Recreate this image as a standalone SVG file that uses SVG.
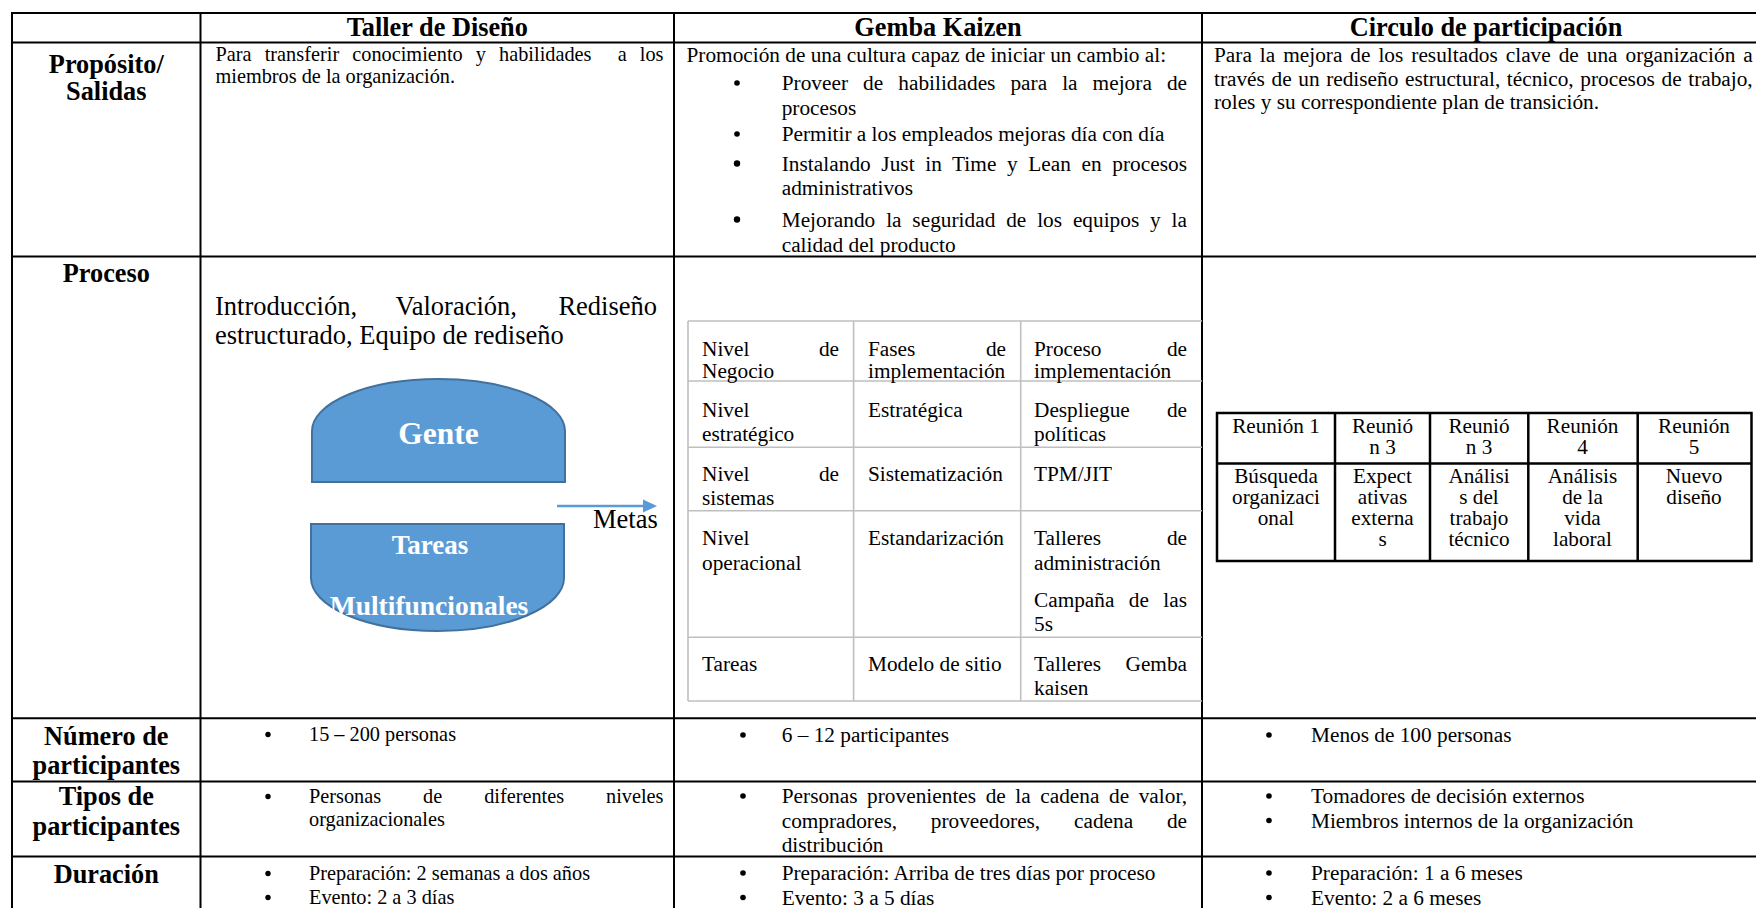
<svg xmlns="http://www.w3.org/2000/svg" width="1756" height="908" viewBox="0 0 1756 908">
<defs>
<style>
text{font-family:'Liberation Serif','Times New Roman',serif;fill:#000}
.b{font-weight:bold;font-size:26.3px;text-anchor:middle}
.r{font-size:21.3px}
.s{font-size:20.3px}
.p{font-size:26.5px}
.c{font-size:21.2px;text-anchor:middle}
.e{text-anchor:end}
.w{fill:#fff;font-weight:bold;text-anchor:middle}
.grid line{stroke:#000;stroke-width:2}
.inner line{stroke:#BFBFBF;stroke-width:1.6}
.reu line,.reu rect{stroke:#000;stroke-width:2.5;fill:none}
.shape{fill:#5B9BD5;stroke:#41719C;stroke-width:2}
.dot{fill:#000}
</style>
</defs>
<rect width="1756" height="908" fill="#fff"/>

<g id="grid" class="grid">
<line x1="12" y1="13" x2="1756" y2="13"/>
<line x1="12" y1="42.5" x2="1756" y2="42.5"/>
<line x1="12" y1="256.5" x2="1756" y2="256.5"/>
<line x1="12" y1="718.3" x2="1756" y2="718.3"/>
<line x1="12" y1="781.5" x2="1756" y2="781.5"/>
<line x1="12" y1="856.5" x2="1756" y2="856.5"/>
<line x1="12" y1="12" x2="12" y2="908"/>
<line x1="200.5" y1="12" x2="200.5" y2="908"/>
<line x1="674" y1="12" x2="674" y2="908"/>
<line x1="1202" y1="12" x2="1202" y2="908"/>
</g>

<g id="headers">
<text class="b" x="437.3" y="36">Taller de Diseño</text>
<text class="b" x="938" y="36">Gemba Kaizen</text>
<text class="b" x="1486" y="36">Circulo de participación</text>
</g>

<g id="row-labels">
<text class="b" x="106.3" y="73">Propósito/</text>
<text class="b" x="106.3" y="100">Salidas</text>
<text class="b" x="106.3" y="282">Proceso</text>
<text class="b" x="106.3" y="745">Número de</text>
<text class="b" x="106.3" y="774">participantes</text>
<text class="b" x="106.3" y="805">Tipos de</text>
<text class="b" x="106.3" y="835">participantes</text>
<text class="b" x="106.3" y="883">Duración</text>
</g>

<g id="taller-proposito">
<text class="s" x="215.5" y="61" xml:space="preserve" word-spacing="8" textLength="448" lengthAdjust="spacing">Para transferir conocimiento y habilidades  a los</text>
<text class="s" x="215.5" y="83">miembros de la organización.</text>
</g>

<g id="gemba-proposito">
<text class="r" x="686.5" y="62">Promoción de una cultura capaz de iniciar un cambio al:</text>
<circle class="dot" cx="737" cy="83" r="2.8"/>
<text class="r" x="781.7" y="90" word-spacing="9.7" textLength="405.3" lengthAdjust="spacing">Proveer de habilidades para la mejora de</text>
<text class="r" x="781.7" y="114.5">procesos</text>
<circle class="dot" cx="737" cy="134" r="2.8"/>
<text class="r" x="781.7" y="141">Permitir a los empleados mejoras día con día</text>
<circle class="dot" cx="737" cy="163.5" r="3.2"/>
<text class="r" x="781.7" y="170.5" word-spacing="5.2" textLength="405.3" lengthAdjust="spacing">Instalando Just in Time y Lean en procesos</text>
<text class="r" x="781.7" y="195">administrativos</text>
<circle class="dot" cx="737" cy="219.5" r="3.2"/>
<text class="r" x="781.7" y="226.5" word-spacing="5.5" textLength="405.3" lengthAdjust="spacing">Mejorando la seguridad de los equipos y la</text>
<text class="r" x="781.7" y="251.5">calidad del producto</text>
</g>

<g id="circulo-proposito">
<text class="r" x="1214" y="62" word-spacing="2.6" textLength="538.7" lengthAdjust="spacing">Para la mejora de los resultados clave de una organización a</text>
<text class="r" x="1214" y="85.5" word-spacing="1.3" textLength="538.7" lengthAdjust="spacing">través de un rediseño estructural, técnico, procesos de trabajo,</text>
<text class="r" x="1214" y="109">roles y su correspondiente plan de transición.</text>
</g>

<g id="taller-proceso">
<text class="p" x="215" y="315">Introducción,</text>
<text class="p" x="395.5" y="315">Valoración,</text>
<text class="p e" x="657" y="315">Rediseño</text>
<text class="p" x="215" y="344">estructurado, Equipo de rediseño</text>
</g>

<g id="node-gente">
<path class="shape" d="M312,482 L312,431 A126.5,52 0 0 1 565,431 L565,482 Z"/>
<text class="w" x="438.5" y="443.5" font-size="31.5">Gente</text>
</g>

<g id="node-tareas">
<path class="shape" d="M311,524 L564,524 L564,578 A126.5,53 0 0 1 311,578 Z"/>
<text class="w" x="430" y="553.5" font-size="27">Tareas</text>
<text class="w" x="429" y="614.5" font-size="27.5">Multifuncionales</text>
</g>

<g id="connectors">
<line x1="557" y1="506" x2="645" y2="506" stroke="#5B9BD5" stroke-width="2.5"/>
<polygon points="643,499.5 657,506 643,512.5" fill="#5B9BD5"/>
<text class="p" x="593" y="527.5" font-size="26">Metas</text>
</g>

<g id="gemba-proceso">
<g class="inner">
<line x1="688" y1="321" x2="1202" y2="321"/>
<line x1="688" y1="381" x2="1202" y2="381"/>
<line x1="688" y1="447.3" x2="1202" y2="447.3"/>
<line x1="688" y1="510.7" x2="1202" y2="510.7"/>
<line x1="688" y1="637.3" x2="1202" y2="637.3"/>
<line x1="688" y1="701" x2="1202" y2="701"/>
<line x1="688" y1="321" x2="688" y2="701"/>
<line x1="853.6" y1="321" x2="853.6" y2="701"/>
<line x1="1020.7" y1="321" x2="1020.7" y2="701"/>
</g>
<text class="r" x="702" y="355.5">Nivel</text><text class="r e" x="839" y="355.5">de</text>
<text class="r" x="702" y="378">Negocio</text>
<text class="r" x="868" y="355.5">Fases</text><text class="r e" x="1006" y="355.5">de</text>
<text class="r" x="868" y="378">implementación</text>
<text class="r" x="1034" y="355.5">Proceso</text><text class="r e" x="1187" y="355.5">de</text>
<text class="r" x="1034" y="378">implementación</text>

<text class="r" x="702" y="417">Nivel</text>
<text class="r" x="702" y="440.5">estratégico</text>
<text class="r" x="868" y="417">Estratégica</text>
<text class="r" x="1034" y="417">Despliegue</text><text class="r e" x="1187" y="417">de</text>
<text class="r" x="1034" y="440.5">políticas</text>

<text class="r" x="702" y="481">Nivel</text><text class="r e" x="839" y="481">de</text>
<text class="r" x="702" y="504.5">sistemas</text>
<text class="r" x="868" y="481">Sistematización</text>
<text class="r" x="1034" y="481">TPM/JIT</text>

<text class="r" x="702" y="545">Nivel</text>
<text class="r" x="702" y="569.5">operacional</text>
<text class="r" x="868" y="545">Estandarización</text>
<text class="r" x="1034" y="545">Talleres</text><text class="r e" x="1187" y="545">de</text>
<text class="r" x="1034" y="569.5">administración</text>
<text class="r" x="1034" y="607">Campaña</text><text class="r" x="1128.8" y="607">de</text><text class="r e" x="1187" y="607">las</text>
<text class="r" x="1034" y="631">5s</text>

<text class="r" x="702" y="671">Tareas</text>
<text class="r" x="868" y="671">Modelo de sitio</text>
<text class="r" x="1034" y="671">Talleres</text><text class="r e" x="1187" y="671">Gemba</text>
<text class="r" x="1034" y="694.5">kaisen</text>
</g>

<g id="circulo-proceso">
<g class="reu">
<rect x="1217" y="413" width="534.5" height="148"/>
<line x1="1217" y1="463.5" x2="1751.5" y2="463.5"/>
<line x1="1335" y1="413" x2="1335" y2="561"/>
<line x1="1430" y1="413" x2="1430" y2="561"/>
<line x1="1528.3" y1="413" x2="1528.3" y2="561"/>
<line x1="1637.7" y1="413" x2="1637.7" y2="561"/>
</g>
<text class="c" x="1276" y="433">Reunión 1</text>
<text class="c" x="1276" y="483">Búsqueda</text>
<text class="c" x="1276" y="504">organizaci</text>
<text class="c" x="1276" y="525">onal</text>
<text class="c" x="1382.5" y="433">Reunió</text>
<text class="c" x="1382.5" y="454.3">n 3</text>
<text class="c" x="1382.5" y="483">Expect</text>
<text class="c" x="1382.5" y="504">ativas</text>
<text class="c" x="1382.5" y="525">externa</text>
<text class="c" x="1382.5" y="546">s</text>
<text class="c" x="1479" y="433">Reunió</text>
<text class="c" x="1479" y="454.3">n 3</text>
<text class="c" x="1479" y="483">Análisi</text>
<text class="c" x="1479" y="504">s del</text>
<text class="c" x="1479" y="525">trabajo</text>
<text class="c" x="1479" y="546">técnico</text>
<text class="c" x="1582.5" y="433">Reunión</text>
<text class="c" x="1582.5" y="454.3">4</text>
<text class="c" x="1582.5" y="483">Análisis</text>
<text class="c" x="1582.5" y="504">de la</text>
<text class="c" x="1582.5" y="525">vida</text>
<text class="c" x="1582.5" y="546">laboral</text>
<text class="c" x="1694" y="433">Reunión</text>
<text class="c" x="1694" y="454.3">5</text>
<text class="c" x="1694" y="483">Nuevo</text>
<text class="c" x="1694" y="504">diseño</text>
</g>

<g id="numero">
<circle class="dot" cx="268" cy="734.5" r="2.7"/>
<text class="s" x="309" y="741">15 – 200 personas</text>
<circle class="dot" cx="743" cy="735" r="2.8"/>
<text class="r" x="781.7" y="742">6 – 12 participantes</text>
<circle class="dot" cx="1269" cy="735" r="2.8"/>
<text class="r" x="1311" y="742">Menos de 100 personas</text>
</g>

<g id="tipos">
<circle class="dot" cx="268" cy="796.5" r="2.7"/>
<text class="s" x="309" y="803">Personas</text>
<text class="s" x="423.1" y="803">de</text>
<text class="s" x="484.2" y="803">diferentes</text>
<text class="s e" x="663.5" y="803">niveles</text>
<text class="s" x="309" y="826">organizacionales</text>

<circle class="dot" cx="743" cy="796" r="2.8"/>
<text class="r" x="781.7" y="803" word-spacing="4.2" textLength="405.3" lengthAdjust="spacing">Personas provenientes de la cadena de valor,</text>
<text class="r" x="781.7" y="827.5">compradores,</text>
<text class="r" x="930.8" y="827.5">proveedores,</text>
<text class="r" x="1074" y="827.5">cadena</text>
<text class="r e" x="1187" y="827.5">de</text>
<text class="r" x="781.7" y="852">distribución</text>

<circle class="dot" cx="1269" cy="796" r="2.8"/>
<text class="r" x="1311" y="803">Tomadores de decisión externos</text>
<circle class="dot" cx="1269" cy="820.5" r="2.8"/>
<text class="r" x="1311" y="827.5">Miembros internos de la organización</text>
</g>

<g id="duracion">
<circle class="dot" cx="268" cy="873.5" r="2.7"/>
<text class="s" x="309" y="880">Preparación: 2 semanas a dos años</text>
<circle class="dot" cx="268" cy="897.5" r="2.7"/>
<text class="s" x="309" y="904">Evento: 2 a 3 días</text>
<circle class="dot" cx="743" cy="873" r="2.8"/>
<text class="r" x="781.7" y="880">Preparación: Arriba de tres días por proceso</text>
<circle class="dot" cx="743" cy="897.5" r="2.8"/>
<text class="r" x="781.7" y="904.5">Evento: 3 a 5 días</text>
<circle class="dot" cx="1269" cy="873" r="2.8"/>
<text class="r" x="1311" y="880">Preparación: 1 a 6 meses</text>
<circle class="dot" cx="1269" cy="897.5" r="2.8"/>
<text class="r" x="1311" y="904.5">Evento: 2 a 6 meses</text>
</g>
</svg>
